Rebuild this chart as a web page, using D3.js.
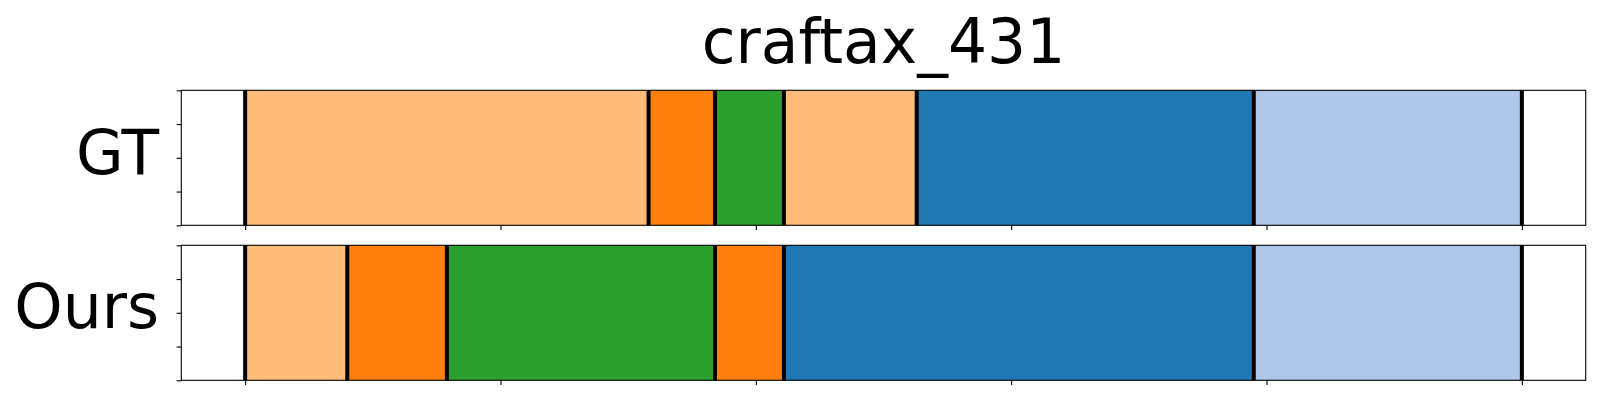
<!DOCTYPE html>
<html>
<head>
<meta charset="utf-8">
<script src="https://cdn.jsdelivr.net/npm/d3@7"></script>
<style>
  html, body { margin: 0; padding: 0; background: #fff; }
  svg { display: block; }
  text { font-family: "DejaVu Sans", sans-serif; }
</style>
</head>
<body>
<svg id="chart" width="1600" height="400"></svg>
<script>
const title = "craftax_431";
const rowLabels = ["GT", "Ours"];
// segment boundaries (frames) and class index (tab20 colour index)
const gtBounds = [0, 158, 184, 211, 263, 395, 500];
const gtClasses = [3, 2, 4, 3, 0, 1];
const oursBounds = [0, 40, 79, 184, 211, 395, 500];
const oursClasses = [3, 2, 4, 2, 0, 1];
const xTicks = [0, 100, 200, 300, 400, 500];
const yTicks = [0, 0.25, 0.5, 0.75, 1];

const tab20 = ["#1f77b4", "#aec7e8", "#ff7f0e", "#ffbb78", "#2ca02c"];

const svg = d3.select("#chart");
const left = 181.3, right = 1585.7;
const rowTops = [90.3, 245.3];
const rowH = 135;

const total = gtBounds[gtBounds.length - 1];
const pad = total * 0.05;
const x = d3.scaleLinear().domain([-pad, total + pad]).range([left, right]);

svg.append("text")
  .attr("x", (left + right) / 2)
  .attr("y", 63.3)
  .attr("text-anchor", "middle")
  .attr("font-size", 61.5)
  .attr("fill", "#000")
  .text(title);

const rows = [
  { label: rowLabels[0], bounds: gtBounds, classes: gtClasses },
  { label: rowLabels[1], bounds: oursBounds, classes: oursClasses }
];

rows.forEach((row, i) => {
  const top = rowTops[i];
  const y = d3.scaleLinear().domain([0, 1]).range([top + rowH, top]);
  const g = svg.append("g");

  const segs = row.classes.map((c, k) => ({ s: row.bounds[k], e: row.bounds[k + 1], c }));
  g.selectAll("rect.seg").data(segs).enter().append("rect")
    .attr("class", "seg")
    .attr("x", d => x(d.s))
    .attr("width", d => x(d.e) - x(d.s))
    .attr("y", y(1))
    .attr("height", y(0) - y(1))
    .attr("fill", d => tab20[d.c]);

  g.selectAll("line.bd").data(row.bounds).enter().append("line")
    .attr("class", "bd")
    .attr("x1", d => x(d)).attr("x2", d => x(d))
    .attr("y1", y(1)).attr("y2", y(0))
    .attr("stroke", "#000")
    .attr("stroke-width", 4);

  // spines
  g.append("rect")
    .attr("x", left).attr("y", top)
    .attr("width", right - left).attr("height", rowH)
    .attr("fill", "none").attr("stroke", "#000").attr("stroke-width", 1.1);

  const xAxis = d3.axisBottom(x).tickValues(xTicks).tickFormat("").tickSize(4.7).tickSizeOuter(0);
  const xg = g.append("g").attr("transform", `translate(0,${top + rowH})`).call(xAxis);
  xg.select(".domain").remove();
  xg.selectAll(".tick line").attr("stroke-width", 1.1);

  const yAxis = d3.axisLeft(y).tickValues(yTicks).tickFormat("").tickSize(4.7).tickSizeOuter(0);
  const yg = g.append("g").attr("transform", `translate(${left},0)`).call(yAxis);
  yg.select(".domain").remove();
  yg.selectAll(".tick line").attr("stroke-width", 1.1);

  svg.append("text")
    .attr("x", 159)
    .attr("y", i === 0 ? 174 : 328.3)
    .attr("text-anchor", "end")
    .attr("font-size", 61.5)
    .attr("fill", "#000")
    .text(row.label);
});
</script>
</body>
</html>
